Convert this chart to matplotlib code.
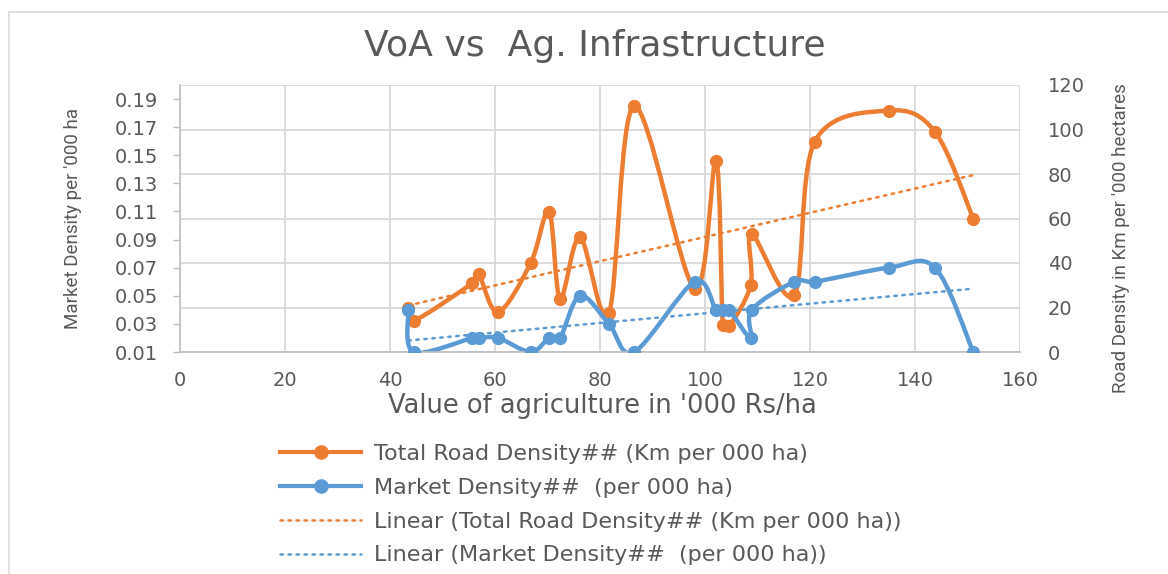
import numpy as np
import matplotlib.pyplot as plt
from matplotlib.path import Path
from matplotlib.patches import PathPatch, Rectangle
from matplotlib.lines import Line2D

# value of agriculture ('000 Rs/ha), shared x for both series
voa = [43.5, 44.5, 55.7, 56.9, 60.6, 66.8, 70.3, 72.4, 76.2, 81.7, 86.5,
       98.0, 102.1, 103.4, 104.6, 108.7, 108.9, 117.0, 120.9, 135.0, 143.8, 151.1]
# total road density (Km per '000 ha) -> right axis
road = [20, 14, 31, 35, 18, 40, 63, 24, 51.5, 17.5, 110.5,
        28.5, 86, 12, 11.5, 30, 53, 25.5, 94.5, 108.5, 99, 60]
# market density (per '000 ha) -> left axis
market = [0.04, 0.01, 0.02, 0.02, 0.02, 0.01, 0.02, 0.02, 0.05, 0.03, 0.01,
          0.06, 0.04, 0.04, 0.04, 0.02, 0.04, 0.06, 0.06, 0.07, 0.07, 0.01]

x_ticks = list(range(0, 161, 20))
left_ticks = [0.01, 0.03, 0.05, 0.07, 0.09, 0.11, 0.13, 0.15, 0.17, 0.19]
right_ticks = list(range(0, 121, 20))

ORANGE = '#ED7D31'
BLUE = '#5B9BD5'
GREY = '#595959'
GRID = '#d9d9d9'


def smooth_path(axis, x, y):
    # excel style smoothed line: bezier controls worked out in pixels,
    # control arms capped at half the segment length
    trans = axis.transData
    pts = trans.transform(np.column_stack([x, y]).astype(float))
    n = len(pts)
    verts = [pts[0]]
    codes = [Path.MOVETO]
    for i in range(n - 1):
        p0 = pts[max(i - 1, 0)]
        p1 = pts[i]
        p2 = pts[i + 1]
        p3 = pts[min(i + 2, n - 1)]
        d12 = np.hypot(*(p2 - p1))
        d02 = np.hypot(*(p2 - p0))
        d13 = np.hypot(*(p3 - p1))
        f1 = 1 / 6
        f2 = 1 / 6
        if d02 / 6 >= d12 / 2 and d02 > 0:
            f1 = d12 / d02 / 2
        if d13 / 6 >= d12 / 2 and d13 > 0:
            f2 = d12 / d13 / 2
        verts += [p1 + (p2 - p0) * f1, p2 - (p3 - p1) * f2, p2]
        codes += [Path.CURVE4] * 3
    verts = trans.inverted().transform(np.array(verts))
    return Path(verts, codes)


fig = plt.figure(figsize=(11.68, 5.74), dpi=100)
fig.patches.append(Rectangle((9 / 1168, -0.1), 1.2, 1.1 - 12 / 574, transform=fig.transFigure,
                             fill=False, edgecolor='#d9d9d9', lw=1.2))

ax = fig.add_axes([180 / 1168, 1 - 352 / 574, 840 / 1168, 267 / 574])
ax2 = ax.twinx()
ax.set_zorder(2)
ax2.set_zorder(1)
ax.patch.set_visible(False)

ax.set_xlim(0, 160)
ax.set_ylim(0.01, 0.20)
ax2.set_ylim(0, 120)

# right axis: orange series, grid
ax2.set_yticks(right_ticks)
ax2.xaxis.set_visible(True)
ax2.tick_params(axis='x', labelbottom=False, length=0)
ax2.tick_params(axis='y', length=0, pad=20, labelsize=14, labelcolor=GREY)
ax2.grid(True, color=GRID, lw=1.3)
for s in ax2.spines.values():
    s.set_visible(False)

ax2.add_patch(PathPatch(smooth_path(ax2, voa, road), fill=False, edgecolor=ORANGE,
                        lw=3.2, capstyle='round', joinstyle='round', zorder=2))
ax2.plot(voa, road, 'o', color=ORANGE, ms=8.5, zorder=3)
k = np.polyfit(voa, road, 1)
tx = np.array([min(voa), max(voa)])
ax2.plot(tx, np.polyval(k, tx), color=ORANGE, lw=1.8, linestyle=(0, (1, 2.2)),
         dash_capstyle='round', zorder=4)

# left axis: blue series
ax.set_xticks(x_ticks)
ax.set_yticks(left_ticks)
ax.set_yticklabels(['%.2f' % v for v in left_ticks])
ax.tick_params(axis='x', length=0, pad=14, labelsize=14, labelcolor=GREY)
ax.tick_params(axis='y', length=5, width=1, color='#bfbfbf', pad=11, labelsize=14, labelcolor=GREY)
for side in ['top', 'right']:
    ax.spines[side].set_visible(False)
for side in ['left', 'bottom']:
    ax.spines[side].set_color('#bfbfbf')
    ax.spines[side].set_linewidth(1.2)

ax.add_patch(PathPatch(smooth_path(ax, voa, market), fill=False, edgecolor=BLUE,
                       lw=3.2, capstyle='round', joinstyle='round', zorder=2))
ax.plot(voa, market, 'o', color=BLUE, ms=8.5, zorder=3)
k2 = np.polyfit(voa, market, 1)
ax.plot(tx, np.polyval(k2, tx), color=BLUE, lw=1.8, linestyle=(0, (1, 2.2)),
        dash_capstyle='round', zorder=4)

narrow = ['Liberation Sans Narrow', 'Roboto', 'DejaVu Sans']
ax.set_ylabel("Market Density per '000 ha", fontsize=13.5, color=GREY, family=narrow)
ax.yaxis.set_label_coords(-0.117, 0.5)
ax2.set_ylabel("Road Density in Km per '000 hectares", fontsize=13.5, color=GREY, family=narrow)
ax2.yaxis.set_label_coords(1.11, 0.427)
ax.set_xlabel("Value of agriculture in '000 Rs/ha", fontsize=18.5, color=GREY)
ax.xaxis.set_label_coords(0.503, -0.153)

fig.text(595 / 1168, 1 - 46 / 574, 'VoA vs  Ag. Infrastructure', fontsize=26,
         color=GREY, ha='center', va='center')

handles = [
    Line2D([], [], color=ORANGE, lw=3, marker='o', ms=9.5),
    Line2D([], [], color=BLUE, lw=3, marker='o', ms=9.5),
    Line2D([], [], color=ORANGE, lw=1.8, linestyle=(0, (1, 2.2)), dash_capstyle='round'),
    Line2D([], [], color=BLUE, lw=1.8, linestyle=(0, (1, 2.2)), dash_capstyle='round'),
]
labels = ['Total Road Density## (Km per 000 ha)',
          'Market Density##  (per 000 ha)',
          'Linear (Total Road Density## (Km per 000 ha))',
          'Linear (Market Density##  (per 000 ha))']
leg = fig.legend(handles, labels, loc='upper left', bbox_to_anchor=(280 / 1168, 1 - 444 / 574),
                 frameon=False, fontsize=16, handlelength=3.65, handletextpad=0.58,
                 labelspacing=0.62, borderpad=0, borderaxespad=0)
for t in leg.get_texts():
    t.set_color(GREY)

fig.savefig('out.png', dpi=100)
